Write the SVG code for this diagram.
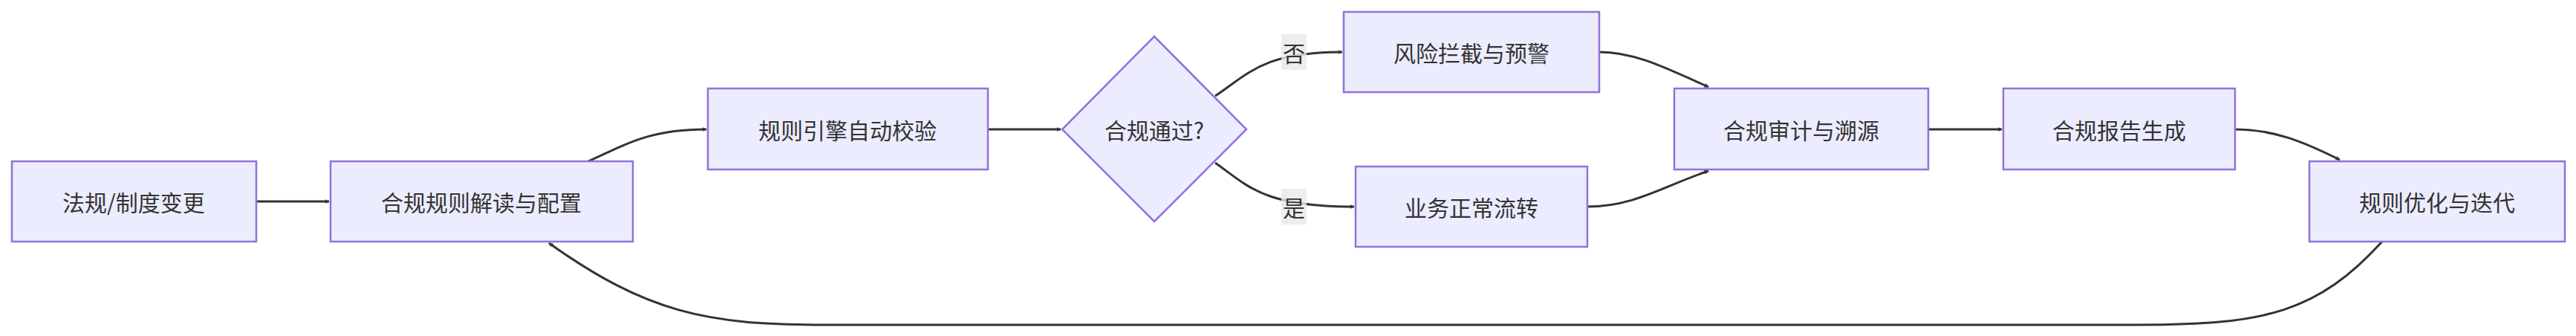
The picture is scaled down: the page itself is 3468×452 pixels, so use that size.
<svg xmlns="http://www.w3.org/2000/svg" width="3468" height="452" viewBox="0 0 3468 452">
<style>
.n rect,.n polygon{fill:#ECECFF;stroke:#9370DB;stroke-width:2.5}
.n text,.l text{font-family:"Noto Sans CJK SC","Liberation Sans",sans-serif;font-size:30px;fill:#333;text-anchor:middle;dominant-baseline:central}
.e path{fill:none;stroke:#333;stroke-width:3;marker-end:url(#a)}
.l rect{fill:#e8e8e8;opacity:0.8}
</style>
<defs><marker id="a" viewBox="0 0 10 10" refX="9" refY="5" markerWidth="6" markerHeight="6" orient="auto" markerUnits="userSpaceOnUse" ><path d="M0,0L10,5L0,10z" fill="#333"/></marker>
</defs>
<rect width="3468" height="452" fill="#fff"/>
<g id="connectors" class="e">
<path d="M345,271L443,271" style="stroke-width:3"/>
<path d="M792,217C850,190 880,174 951,174"/>
<path d="M1330,174L1428,174"/>
<path d="M1636,129C1680,100 1700,70 1807,70"/>
<path d="M1636,219C1680,250 1700,278 1823,278"/>
<path d="M2153,70C2200,70 2240,90 2300,117"/>
<path d="M2137,278C2200,278 2240,250 2300,230"/>
<path d="M2596,174L2695,174"/>
<path d="M3009,174C3060,174 3100,190 3150,215"/>
<path d="M3207,325C3120,420 3050,437 2880,437L1110,437C950,437 870,420 739,327"/>
</g>
<g class="l" id="label-no"><rect x="1725" y="46" width="34" height="48"/><text x="1742" y="70">否</text></g>
<g class="l" id="label-yes"><rect x="1725" y="254" width="34" height="48"/><text x="1742" y="278">是</text></g>
<g class="n" id="n1"><rect x="16" y="217" width="329" height="108"/><text x="180" y="271">法规/制度变更</text></g>
<g class="n" id="n2"><rect x="445" y="217" width="407" height="108"/><text x="648" y="271">合规规则解读与配置</text></g>
<g class="n" id="n3"><rect x="953" y="119" width="377" height="109"/><text x="1141" y="174">规则引擎自动校验</text></g>
<g class="n" id="n4"><polygon points="1554,49 1678,174 1554,298 1430,174"/><text x="1554" y="174">合规通过?</text></g>
<g class="n" id="n5"><rect x="1809" y="16" width="344" height="108"/><text x="1981" y="70">风险拦截与预警</text></g>
<g class="n" id="n6"><rect x="1825" y="224" width="312" height="108"/><text x="1981" y="278">业务正常流转</text></g>
<g class="n" id="n7"><rect x="2254" y="119" width="342" height="109"/><text x="2425" y="174">合规审计与溯源</text></g>
<g class="n" id="n8"><rect x="2697" y="119" width="312" height="109"/><text x="2853" y="174">合规报告生成</text></g>
<g class="n" id="n9"><rect x="3109" y="217" width="344" height="108"/><text x="3281" y="271">规则优化与迭代</text></g>
</svg>
